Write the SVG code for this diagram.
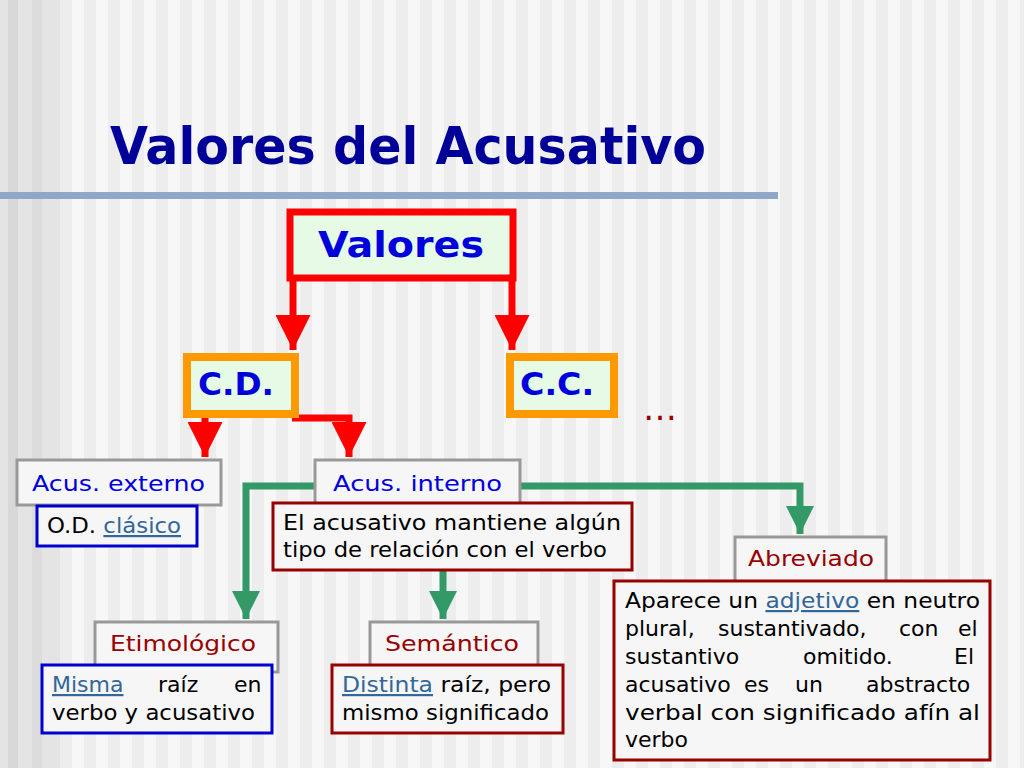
<svg xmlns="http://www.w3.org/2000/svg" width="1024" height="768" viewBox="0 0 1024 768">
<defs>
<pattern id="st" width="24" height="768" patternUnits="userSpaceOnUse">
<rect width="24" height="768" fill="#f7f7f7"/><rect x="12" width="12" height="768" fill="#ededed"/>
</pattern>
<marker id="ar" viewBox="0 0 10 10" refX="10" refY="5" markerWidth="5" markerHeight="5" markerUnits="strokeWidth" orient="auto"><path d="M0,0 L10,5 L0,10 z" fill="#ff0000"/></marker>
<marker id="ag" viewBox="0 0 10 10" refX="10" refY="5" markerWidth="4" markerHeight="4" markerUnits="strokeWidth" orient="auto"><path d="M0,0 L10,5 L0,10 z" fill="#339966"/></marker>
</defs>
<style>
.t{font-family:"DejaVu Sans",Verdana,sans-serif;font-size:22px}
.b{fill:#0000dd}.r{fill:#990000}.k{fill:#000}
.l{fill:#336699;text-decoration:underline}
.gray{fill:#f6f6f6;stroke:#999;stroke-width:3}
.blue{fill:#f6f6f6;stroke:#0000cc;stroke-width:3}
.dred{fill:#f6f6f6;stroke:#990000;stroke-width:3}
.org{fill:#e6fae6;stroke:#ff9900;stroke-width:8}
.red{fill:none;stroke:#ff0000;stroke-width:7}
.grn{fill:none;stroke:#339966;stroke-width:7}
.big{font-family:"DejaVu Sans",sans-serif;font-weight:bold;fill:#0000dd}
</style>
<rect width="1024" height="768" fill="url(#st)"/>
<rect width="60" height="768" fill="#e4e4e4"/>
<rect x="8" width="10" height="768" fill="#d8d8d8"/><rect x="32" width="10" height="768" fill="#dcdcdc"/>
<text x="110" y="164" font-family="DejaVu Sans,sans-serif" font-weight="bold" font-size="52" fill="#000099" textLength="596" lengthAdjust="spacingAndGlyphs">Valores del Acusativo</text>
<rect x="0" y="192" width="778" height="7" fill="#8fa8c8"/>
<g id="connectors">
<path class="red" d="M293,278 V350" marker-end="url(#ar)"/>
<path class="red" d="M512,278 V350" marker-end="url(#ar)"/>
<path class="red" d="M205,414 V457" marker-end="url(#ar)"/>
<path class="red" d="M292,418 H349 V457" marker-end="url(#ar)"/>
<path class="grn" d="M316,486 H246 V619" marker-end="url(#ag)"/>
<path class="grn" d="M519,486 H800 V534" marker-end="url(#ag)"/>
<path class="grn" d="M443,570 V619" marker-end="url(#ag)"/>
</g>
<g id="valores"><rect x="290" y="212" width="223" height="66" fill="#e6fae6" stroke="#ff0000" stroke-width="7"/><text x="401" y="257" text-anchor="middle" class="big" font-size="36" textLength="166" lengthAdjust="spacingAndGlyphs">Valores</text></g>
<g id="cd"><rect class="org" x="187" y="357" width="108" height="57"/><text x="198" y="395" class="big" font-size="32" textLength="76" lengthAdjust="spacingAndGlyphs">C.D.</text></g>
<g id="cc"><rect class="org" x="510" y="357" width="104" height="57"/><text x="520" y="395" class="big" font-size="32" textLength="74" lengthAdjust="spacingAndGlyphs">C.C.</text></g>
<text x="643" y="420" font-family="DejaVu Sans,sans-serif" font-size="34" fill="#990000">…</text>
<g id="externo"><rect class="gray" x="17" y="460" width="204" height="45"/><text class="t b" x="32" y="491" textLength="173" lengthAdjust="spacingAndGlyphs">Acus. externo</text></g>
<g id="od"><rect class="blue" x="37" y="506" width="160" height="40"/><text class="t k" x="47" y="533" textLength="134" lengthAdjust="spacingAndGlyphs">O.D. <tspan class="l">clásico</tspan></text></g>
<g id="interno"><rect class="gray" x="315" y="460" width="205" height="45"/><text class="t b" x="333" y="491" textLength="169" lengthAdjust="spacingAndGlyphs">Acus. interno</text></g>
<g id="desc"><rect class="dred" x="273" y="503" width="359" height="67"/><text class="t k" x="283" y="530" textLength="338" lengthAdjust="spacingAndGlyphs">El acusativo mantiene algún</text><text class="t k" x="283" y="557" textLength="324" lengthAdjust="spacingAndGlyphs">tipo de relación con el verbo</text></g>
<g id="etim"><rect class="gray" x="95" y="622" width="183" height="50"/><text class="t r" x="110" y="651" textLength="146" lengthAdjust="spacingAndGlyphs">Etimológico</text></g>
<g id="misma"><rect class="blue" x="42" y="665" width="230" height="68"/><text class="t k" y="692"><tspan class="l" x="52">Misma</tspan><tspan x="158">raíz</tspan><tspan x="234">en</tspan></text><text class="t k" x="52" y="720" textLength="203" lengthAdjust="spacingAndGlyphs">verbo y acusativo</text></g>
<g id="sem"><rect class="gray" x="370" y="622" width="168" height="50"/><text class="t r" x="385" y="651" textLength="134" lengthAdjust="spacingAndGlyphs">Semántico</text></g>
<g id="distinta"><rect class="dred" x="332" y="665" width="231" height="68"/><text class="t k" x="342" y="692" textLength="209" lengthAdjust="spacingAndGlyphs"><tspan class="l">Distinta</tspan> raíz, pero</text><text class="t k" x="342" y="720" textLength="207" lengthAdjust="spacingAndGlyphs">mismo significado</text></g>
<g id="abrev"><rect class="gray" x="735" y="537" width="151" height="50"/><text class="t r" x="748" y="566" textLength="126" lengthAdjust="spacingAndGlyphs">Abreviado</text></g>
<g id="aparece"><rect class="dred" x="614" y="581" width="376" height="179"/>
<text class="t k" x="625" y="608" textLength="355" lengthAdjust="spacingAndGlyphs">Aparece un <tspan class="l">adjetivo</tspan> en neutro</text>
<text class="t k" y="636"><tspan x="625">plural,</tspan><tspan x="718">sustantivado,</tspan><tspan x="899">con</tspan><tspan x="958">el</tspan></text>
<text class="t k" y="664"><tspan x="625">sustantivo</tspan><tspan x="803">omitido.</tspan><tspan x="954">El</tspan></text>
<text class="t k" y="692"><tspan x="625">acusativo</tspan><tspan x="744">es</tspan><tspan x="795">un</tspan><tspan x="866">abstracto</tspan></text>
<text class="t k" x="625" y="720" textLength="355" lengthAdjust="spacingAndGlyphs">verbal con significado afín al</text>
<text class="t k" x="625" y="747">verbo</text></g>
</svg>
